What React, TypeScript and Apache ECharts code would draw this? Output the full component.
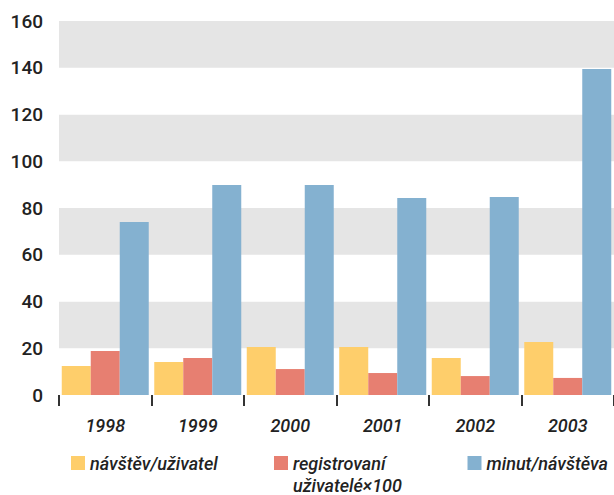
import React, { useEffect, useRef } from "react";
import * as echarts from "echarts";

const categories = ["1998", "1999", "2000", "2001", "2002", "2003"];
const seriesNames = ["návštěv/uživatel", "registrovaní uživatelé×100", "minut/návštěva"];
const visitsPerUser = [12.4, 14.1, 20.5, 20.5, 15.8, 22.7];
const registeredUsers = [18.8, 15.8, 11.1, 9.4, 8.1, 7.3];
const minutesPerVisit = [74.0, 89.8, 89.8, 84.3, 84.7, 139.5];
const colors = ["#FECE6B", "#E77F71", "#84B1D0"];

export default function App() {
  const ref = useRef<HTMLDivElement>(null);
  useEffect(() => {
    document.body.style.margin = "0";
    const chart = echarts.init(ref.current!, null, { renderer: "svg" });
    const font = "Roboto, 'Liberation Sans', Arial, sans-serif";
    const legendCommon = {
      top: 450.5,
      padding: 0,
      itemWidth: 14,
      itemHeight: 14,
      icon: "rect",
      selectedMode: false,
      textStyle: {
        fontFamily: font,
        fontSize: 18,
        fontWeight: 500,
        fontStyle: "italic",
        color: "#222",
        lineHeight: 25,
      },
    };
    chart.setOption({
      animation: false,
      color: colors,
      legend: [
        { ...legendCommon, left: 71, data: [seriesNames[0]] },
        {
          ...legendCommon,
          left: 274,
          top: 430,
          data: [seriesNames[1]],
          textStyle: { ...legendCommon.textStyle, lineHeight: 22 },
          formatter: () => "\nregistrovaní\nuživatelé×100",
        },
        { ...legendCommon, left: 467.5, data: [seriesNames[2]] },
      ],
      grid: { left: 59, right: -12, top: 21, bottom: 100, containLabel: false },
      xAxis: {
        type: "category",
        data: categories,
        axisLine: { show: false },
        axisTick: { show: true, length: 11, lineStyle: { color: "#333", width: 2 } },
        axisLabel: {
          margin: 21,
          fontFamily: font,
          fontSize: 18,
          fontWeight: 500,
          fontStyle: "italic",
          color: "#222",
        },
        splitLine: { show: false },
      },
      yAxis: {
        type: "value",
        min: 0,
        max: 160,
        interval: 20,
        axisLine: { show: false },
        axisTick: { show: false },
        axisLabel: { margin: 16, fontFamily: font, fontSize: 19, fontWeight: 500, color: "#222" },
        splitLine: { show: false },
        splitArea: { show: true, areaStyle: { color: ["#ffffff", "#e5e5e5"] } },
      },
      series: [
        { name: seriesNames[0], type: "bar", data: visitsPerUser, barWidth: 29, barGap: "0%" },
        { name: seriesNames[1], type: "bar", data: registeredUsers, barWidth: 29, barGap: "0%" },
        { name: seriesNames[2], type: "bar", data: minutesPerVisit, barWidth: 29, barGap: "0%" },
      ],
    });
    return () => chart.dispose();
  }, []);
  return <div ref={ref} style={{ width: 614, height: 495 }} />;
}
